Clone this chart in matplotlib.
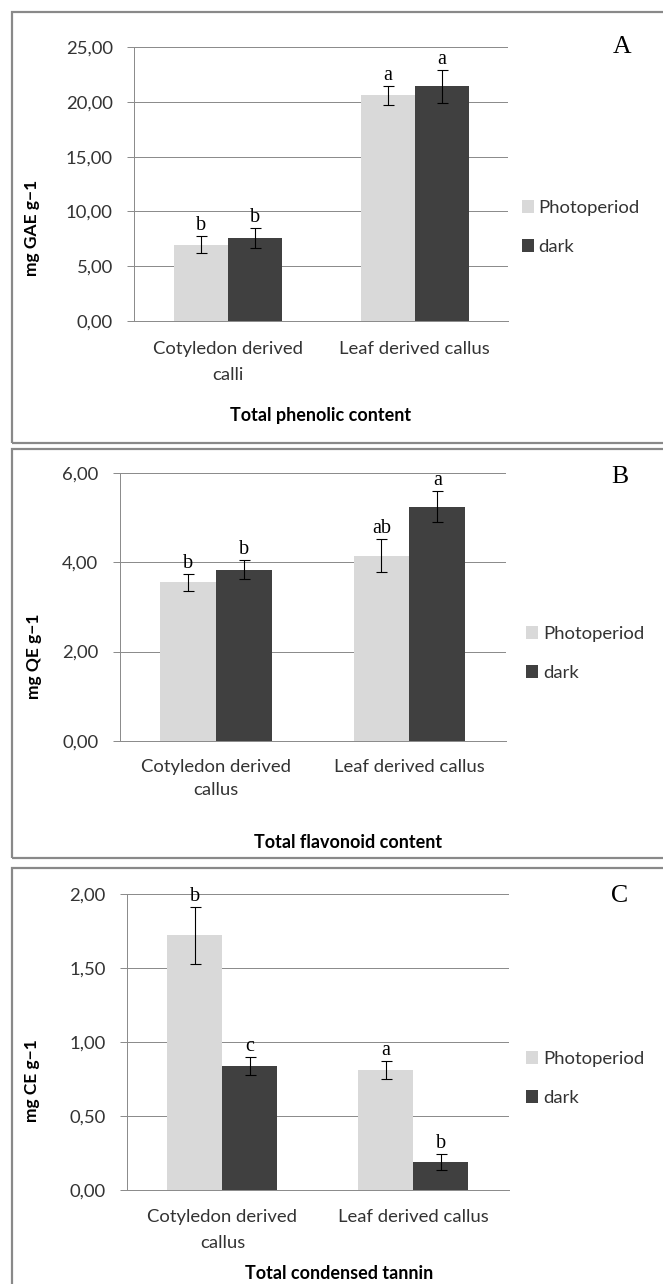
import matplotlib
matplotlib.use("Agg")
import matplotlib.pyplot as plt
import matplotlib.transforms as mtransforms
from matplotlib.patches import Rectangle, Patch

# ---------------- data ----------------
series_names = ["Photoperiod", "dark"]
categories_A = ["Cotyledon derived\ncalli", "Leaf derived callus"]
categories_B = ["Cotyledon derived\ncallus", "Leaf derived callus"]
categories_C = ["Cotyledon derived\ncallus", "Leaf derived callus"]

photo_A = [6.95, 20.62]
photo_A_err = [0.79, 0.88]
dark_A = [7.55, 21.44]
dark_A_err = [0.91, 1.50]
letters_photo_A = ["b", "a"]
letters_dark_A = ["b", "a"]

photo_B = [3.55, 4.15]
photo_B_err = [0.18, 0.37]
dark_B = [3.84, 5.25]
dark_B_err = [0.21, 0.35]
letters_photo_B = ["b", "ab"]
letters_dark_B = ["b", "a"]

photo_C = [1.72, 0.81]
photo_C_err = [0.195, 0.062]
dark_C = [0.84, 0.19]
dark_C_err = [0.059, 0.056]
letters_photo_C = ["b", "a"]
letters_dark_C = ["c", "b"]

yticks_A = [0, 5, 10, 15, 20, 25]
yticklabels_A = ["0,00", "5,00", "10,00", "15,00", "20,00", "25,00"]
yticks_B = [0, 2, 4, 6]
yticklabels_B = ["0,00", "2,00", "4,00", "6,00"]
yticks_C = [0, 0.5, 1.0, 1.5, 2.0]
yticklabels_C = ["0,00", "0,50", "1,00", "1,50", "2,00"]

ylabels = ["mg GAE g\u22121", "mg QE g\u22121", "mg CE g\u22121"]
titles = ["Total phenolic content", "Total flavonoid content", "Total condensed tannin"]
panel_letters = ["A", "B", "C"]

# ---------------- style ----------------
W, H = 663, 1284
DPI = 100
C_LIGHT = "#D9D9D9"
C_DARK = "#404040"
C_GRID = "#8C8C8C"
C_FRAME = "#898989"
SANS = ["Lato", "DejaVu Sans"]
SERIF = ["Liberation Serif", "DejaVu Serif"]
PX = 72.0 / DPI  # points per pixel

fig = plt.figure(figsize=(W / DPI, H / DPI), dpi=DPI)


def fx(x):
    return x / W


def fy(y):
    return 1 - y / H


def add_axes_px(left, right, top, bottom):
    return fig.add_axes([fx(left), fy(bottom), fx(right - left), (bottom - top) / H])


panels = [
    dict(box=(134, 508.3, 47.3, 320.7), ylim=25, yt=yticks_A, ytl=yticklabels_A,
         cats=categories_A, photo=photo_A, pe=photo_A_err, dark=dark_A, de=dark_A_err,
         lp=letters_photo_A, ld=letters_dark_A,
         cat_y=(349.3, 375.0), title_xy=(321, 415), ylab_xy=(31.7, 227.6),
         letter_xy=(621.7, 46.7), legend_xy=(521.7, 227.5),
         frame=(11.5, 12.3, 442.7)),
    dict(box=(119.5, 506.0, 473.3, 740.7), ylim=6, yt=yticks_B, ytl=yticklabels_B,
         cats=categories_B, photo=photo_B, pe=photo_B_err, dark=dark_B, de=dark_B_err,
         lp=letters_photo_B, ld=letters_dark_B,
         cat_y=(766.7, 790.0), title_xy=(347.8, 842.3), ylab_xy=(34, 656),
         letter_xy=(619.5, 476.7), legend_xy=(526.4, 653.6),
         frame=(11.5, 449.3, 858.3)),
    dict(box=(127.0, 508.7, 894.0, 1190.3), ylim=2, yt=yticks_C, ytl=yticklabels_C,
         cats=categories_C, photo=photo_C, pe=photo_C_err, dark=dark_C, de=dark_C_err,
         lp=letters_photo_C, ld=letters_dark_C,
         cat_y=(1217.3, 1242.7), title_xy=(339, 1273.3), ylab_xy=(32.5, 1081),
         letter_xy=(619.5, 895.7), legend_xy=(526.4, 1078.5),
         frame=(11.5, 868.3, 1292)),
]

BW = 0.2885

for i, p in enumerate(panels):
    # frame
    fl, ft, fb = p["frame"]
    fig.patches.append(Rectangle((fx(fl), fy(fb)), fx(680 - fl), (fb - ft) / H,
                                 transform=fig.transFigure, fill=False,
                                 edgecolor=C_FRAME, linewidth=2.2 * PX, zorder=0))

    ax = add_axes_px(*p["box"])
    x = list(range(len(p["cats"])))
    ax.bar([xi - BW for xi in x], p["photo"], width=BW, align="edge",
           color=C_LIGHT, edgecolor="none", zorder=2)
    ax.bar(x, p["dark"], width=BW, align="edge", color=C_DARK,
           edgecolor="none", zorder=2)
    xp = [xi - BW / 2 for xi in x]
    xd = [xi + BW / 2 for xi in x]
    ax.errorbar(xp, p["photo"], yerr=p["pe"], fmt="none", ecolor="black",
                elinewidth=1.1 * PX, capsize=5.5 * PX, capthick=1.1 * PX, zorder=3)
    ax.errorbar(xd, p["dark"], yerr=p["de"], fmt="none", ecolor="black",
                elinewidth=1.1 * PX, capsize=5.5 * PX, capthick=1.1 * PX, zorder=3)
    for xx, v, e, lab in list(zip(xp, p["photo"], p["pe"], p["lp"])) + \
            list(zip(xd, p["dark"], p["de"], p["ld"])):
        ax.annotate(lab, (xx, v + e), xytext=(0, 6 * PX), textcoords="offset points",
                    ha="center", va="baseline", family=SERIF, fontsize=14.5, color="black",
                    zorder=4)

    ax.set_xlim(-0.5, len(x) - 0.5)
    ax.set_ylim(0, p["ylim"])
    ax.set_yticks(p["yt"])
    ax.set_yticklabels(p["ytl"], family=SANS, fontsize=13.3, color="#333333")
    ax.tick_params(axis="y", length=7.3 * PX, width=1 * PX, color=C_GRID, pad=14 * PX)
    ax.set_xticks([])
    ax.set_axisbelow(True)
    ax.grid(axis="y", color=C_GRID, linewidth=1 * PX)
    for s in ["top", "right"]:
        ax.spines[s].set_visible(False)
    for s in ["left", "bottom"]:
        ax.spines[s].set_color(C_GRID)
        ax.spines[s].set_linewidth(1 * PX)

    # category labels
    blend = mtransforms.blended_transform_factory(ax.transData, fig.transFigure)
    for xi, cat in zip(x, p["cats"]):
        for k, line in enumerate(cat.split("\n")):
            ax.text(xi, fy(p["cat_y"][k]), line, transform=blend, ha="center", va="center",
                    family=SANS, fontsize=13.3, color="#333333")

    # title
    fig.text(fx(p["title_xy"][0]), fy(p["title_xy"][1]), titles[i], ha="center", va="center",
             family=SANS, fontsize=13.0, fontweight="bold", color="black")
    # y label
    fig.text(fx(p["ylab_xy"][0]), fy(p["ylab_xy"][1]), ylabels[i], ha="center", va="center",
             rotation=90, family=SANS, fontsize=12.5, fontweight="bold", color="black")
    # panel letter
    fig.text(fx(p["letter_xy"][0]), fy(p["letter_xy"][1]), panel_letters[i], ha="center",
             va="center", family=SERIF, fontsize=18.5, color="black")

    # legend
    handles = [Patch(facecolor=C_LIGHT, edgecolor="none"),
               Patch(facecolor=C_DARK, edgecolor="none")]
    leg = fig.legend(handles, series_names, loc="center left",
                     bbox_to_anchor=(fx(p["legend_xy"][0]), fy(p["legend_xy"][1])),
                     frameon=False, prop=dict(family=SANS, size=13.3),
                     handlelength=0.65, handleheight=0.65, handletextpad=0.25,
                     labelspacing=1.25, borderpad=0, borderaxespad=0)
    for t in leg.get_texts():
        t.set_color("#333333")

fig.savefig("out.png", dpi=DPI)
